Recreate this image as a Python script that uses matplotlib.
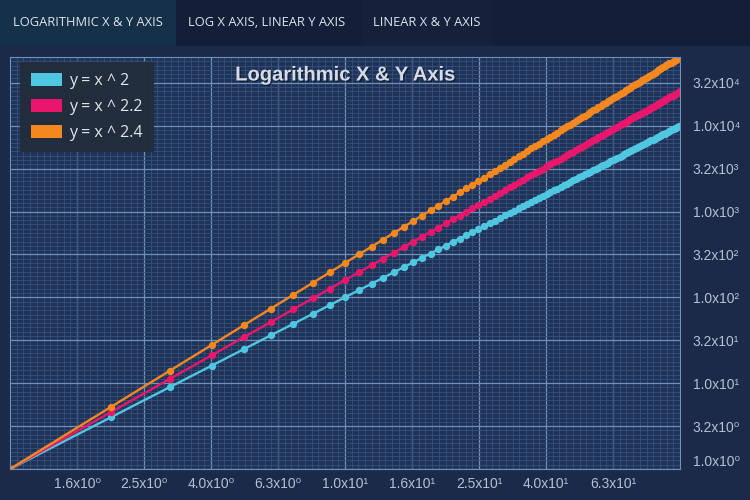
import numpy as np
import matplotlib.pyplot as plt
import matplotlib.patheffects as pe
from matplotlib.patches import Patch, Rectangle
from matplotlib.ticker import FixedLocator, FixedFormatter, NullFormatter

# Data
x_values = list(range(1, 101))
exponents = [2, 2.2, 2.4]
series_labels = ['y = x ^ 2', 'y = x ^ 2.2', 'y = x ^ 2.4']
series_colors = ['#50c7e1', '#ea166c', '#f5871f']

x_ticks = [1.585, 2.512, 3.981, 6.310, 10.0, 15.85, 25.12, 39.81, 63.10]
x_tick_labels = ['1.6x10⁰', '2.5x10⁰', '4.0x10⁰', '6.3x10⁰', '1.0x10¹',
                 '1.6x10¹', '2.5x10¹', '4.0x10¹', '6.3x10¹']
y_ticks = [1, 3.162, 10, 31.62, 100, 316.2, 1000, 3162, 10000, 31623]
y_tick_labels = ['1.0x10⁰', '3.2x10⁰', '1.0x10¹', '3.2x10¹', '1.0x10²',
                 '3.2x10²', '1.0x10³', '3.2x10³', '1.0x10⁴', '3.2x10⁴']

tab_labels = ['LOGARITHMIC X & Y AXIS', 'LOG X AXIS, LINEAR Y AXIS', 'LINEAR X & Y AXIS']
title = 'Logarithmic X & Y Axis'

# Colours
fig_bg = '#1c2a4a'
tab_bg = '#131f38'
tab_active_bg = '#153049'
plot_bg = '#1f3258'
major_grid = '#6f92bb'
minor_grid = '#36527c'
label_color = '#b4c0d2'

W, H = 750, 500
fig = plt.figure(figsize=(7.5, 5), dpi=100)
fig.patch.set_facecolor(fig_bg)

# Tab bar
fig.add_artist(Rectangle((0, 1 - 46 / H), 1, 46 / H, transform=fig.transFigure,
                         facecolor=tab_bg, edgecolor='none'))
fig.add_artist(Rectangle((0, 1 - 46 / H), 176 / W, 46 / H, transform=fig.transFigure,
                         facecolor=tab_active_bg, edgecolor='none'))
fig.add_artist(Rectangle((362 / W, 1 - 46 / H), 130 / W, 46 / H, transform=fig.transFigure,
                         facecolor='#15213b', edgecolor='none'))
for label, xpos in zip(tab_labels, [13, 188, 373]):
    fig.text(xpos / W, 1 - 23 / H, label, color='#dde4ee', fontsize=9.3,
             family=['Open Sans', 'DejaVu Sans'], va='center', ha='left')

# Plot area
left, right, top, bottom = 10, 680, 57, 469
ax = fig.add_axes([left / W, 1 - bottom / H, (right - left) / W, (bottom - top) / H])
ax.set_facecolor(plot_bg)
ax.set_xscale('log')
ax.set_yscale('log')
ax.set_xlim(1, 100)
ax.set_ylim(1, 10 ** 4.8)

x_minor = 10 ** np.arange(0, 2.001, 0.02)
y_minor = 10 ** np.arange(0, 4.801, 0.05)
ax.xaxis.set_major_locator(FixedLocator(x_ticks))
ax.xaxis.set_major_formatter(FixedFormatter(x_tick_labels))
ax.xaxis.set_minor_locator(FixedLocator(x_minor))
ax.xaxis.set_minor_formatter(NullFormatter())
ax.yaxis.set_major_locator(FixedLocator(y_ticks))
ax.yaxis.set_major_formatter(FixedFormatter(y_tick_labels))
ax.yaxis.set_minor_locator(FixedLocator(y_minor))
ax.yaxis.set_minor_formatter(NullFormatter())

ax.grid(which='minor', color=minor_grid, linewidth=0.6)
ax.grid(which='major', color=major_grid, linewidth=0.9)
ax.set_axisbelow(True)

ax.yaxis.tick_right()
ax.tick_params(which='both', length=0)
ax.tick_params(axis='y', pad=9, labelsize=10, labelcolor=label_color)
ax.tick_params(axis='x', pad=6, labelsize=10, labelcolor=label_color)
for t in ax.get_xticklabels() + ax.get_yticklabels():
    t.set_family(['Liberation Sans', 'DejaVu Sans'])
ax.get_yticklabels()[0].set_va('bottom')

for s in ax.spines.values():
    s.set_color(major_grid)
    s.set_linewidth(0.8)

x_arr = np.array(x_values, dtype=float)
for p, label, color in zip(exponents, series_labels, series_colors):
    ax.plot(x_arr, x_arr ** p, color=color, linewidth=1.7, marker='o',
            markersize=5.3, markeredgewidth=0, label=label)

# Title
ax.text(0.5, 1 - 18 / (bottom - top), title, transform=ax.transAxes, ha='center', va='center',
        fontsize=14.5, fontweight='bold', color='#d6dce6',
        family=['Liberation Sans', 'DejaVu Sans'],
        path_effects=[pe.withSimplePatchShadow(offset=(1, -1), shadow_rgbFace='#0a1020', alpha=0.6)])

# Legend
handles = [Patch(facecolor=c, edgecolor='none') for c in series_colors]
leg = ax.legend(handles, series_labels, loc='upper left',
                bbox_to_anchor=(10 / (right - left), 1 - 5 / (bottom - top)),
                borderaxespad=0, handlelength=1.9, handleheight=0.9,
                handletextpad=0.5, labelspacing=0.6, borderpad=0.7,
                frameon=True, fancybox=False, prop={'family': ['Open Sans', 'DejaVu Sans'], 'size': 11.5})
leg.get_frame().set_facecolor('#222d3b')
leg.get_frame().set_edgecolor('none')
leg.get_frame().set_alpha(0.97)
for t in leg.get_texts():
    t.set_color('#e2e6ec')

fig.savefig('out.png', dpi=100, facecolor=fig.get_facecolor())
